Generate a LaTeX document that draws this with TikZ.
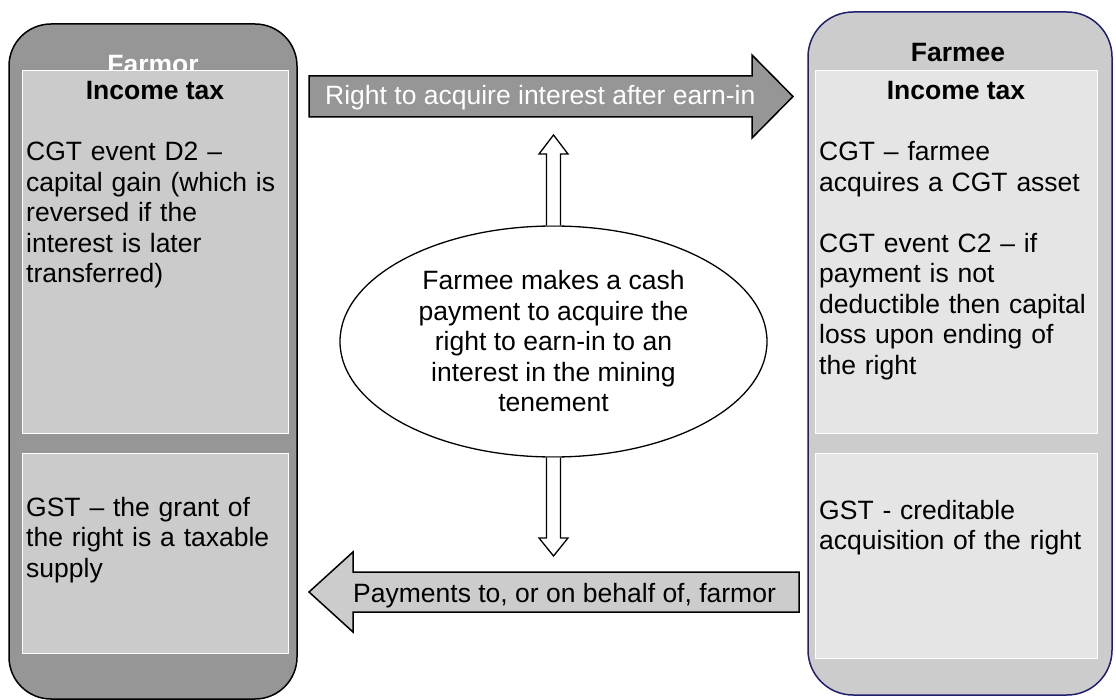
\documentclass[tikz,border=0pt]{standalone}
\usepackage{fontspec}
\setmainfont{Liberation Sans}
\usetikzlibrary{shapes.geometric}
\definecolor{darkg}{RGB}{150,150,150}
\definecolor{midg}{RGB}{203,203,203}
\definecolor{lightg}{RGB}{204,204,204}
\definecolor{paleg}{RGB}{229,229,229}
\definecolor{navy}{RGB}{31,31,110}
\begin{document}
\begin{tikzpicture}[x=1pt,y=-1pt,
  fnt/.style={font=\fontsize{26.5}{30.5}\selectfont},
  bodytxt/.style={fnt, inner sep=0pt, text width=278pt, align=left, anchor=base west},
  headtxt/.style={font=\fontsize{26.5}{30.5}\selectfont\bfseries, inner sep=0pt, anchor=base},
  outerL/.style={draw=black, fill=darkg, line width=1.5pt, rounded corners=42pt},
  outerR/.style={draw=navy, fill=lightg, line width=1.5pt, rounded corners=45pt},
  innerL/.style={draw=white, fill=midg, line width=1pt},
  innerR/.style={draw=white, fill=paleg, line width=1pt},
  blockarrow/.style={draw=black, line width=1.5pt, line join=miter},
  hollow/.style={draw=black, fill=white, line width=1.3pt, line join=miter}]
\useasboundingbox (0,0) rectangle (1116,700);

% ---------- Farmor column ----------
\draw[outerL] (9,24) rectangle (297,699);
\node[headtxt, text=white] (farmor) at (153,74) {Farmor};
\draw[innerL] (22,71) rectangle (288,433);
\draw[innerL] (22,453) rectangle (288,653);
\node[headtxt] (lit) at (155,100) {Income tax};
\node[bodytxt] (lcgt) at (26,161) {CGT event D2 –\\capital gain (which is\\reversed if the\\interest is later\\transferred)};
\node[bodytxt] (lgst) at (26,516) {GST – the grant of\\the right is a taxable\\supply};

% ---------- Farmee column ----------
\draw[outerR] (808,12) rectangle (1112,695);
\node[headtxt] (farmee) at (958,62) {Farmee};
\draw[innerR] (815,71) rectangle (1097,433);
\draw[innerR] (815,453) rectangle (1097,658);
\node[headtxt] (rit) at (956,100) {Income tax};
\node[bodytxt] (rcgt) at (819,161) {CGT – farmee\\acquires a CGT asset\\[30.5pt]CGT event C2 – if\\payment is not\\deductible then capital\\loss upon ending of\\the right};
\node[bodytxt] (rgst) at (819,519) {GST - creditable\\acquisition of the right};

% ---------- block arrows ----------
\draw[blockarrow, fill=darkg] (309,76) -- (752,76) -- (752,55) -- (793,96.5) -- (752,138) -- (752,117) -- (309,117) -- cycle;
\node[fnt, text=white, inner sep=0pt, anchor=base west] (right) at (325,105) {Right to acquire interest after earn-in};

\draw[blockarrow, fill=lightg] (799,572) -- (353,572) -- (353,552) -- (309,592) -- (353,632) -- (353,612) -- (799,612) -- cycle;
\node[fnt, inner sep=0pt, anchor=base west] (pay) at (353,602) {Payments to, or on behalf of, farmor};

% ---------- central ellipse ----------
\node[ellipse, draw=black, fill=white, line width=1.3pt, minimum width=427pt, minimum height=231pt, inner sep=0pt, align=center, fnt] (deal) at (553.5,341.5) {Farmee makes a cash\\payment to acquire the\\right to earn-in to an\\interest in the mining\\tenement};

\coordinate (uptip) at (553.5,135);
\coordinate (dntip) at (553.5,556);
\draw[hollow] ([xshift=-7pt]deal.north) -- (546.5,154) -- (539,154) -- (uptip) -- (568,154) -- (560.5,154) -- ([xshift=7pt]deal.north);
\draw[hollow] ([xshift=-7pt]deal.south) -- (546.5,538) -- (539,538) -- (dntip) -- (568,538) -- (560.5,538) -- ([xshift=7pt]deal.south);
\end{tikzpicture}
\end{document}
